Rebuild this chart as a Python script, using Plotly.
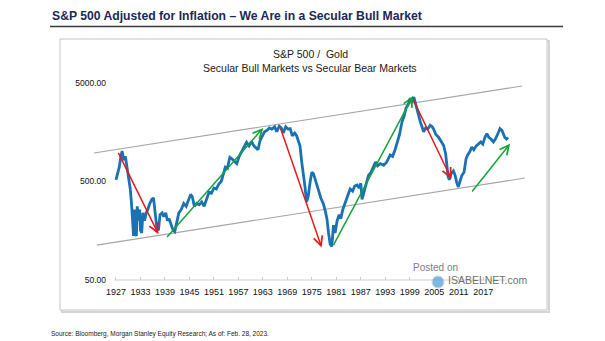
import numpy as np
import plotly.graph_objects as go

# ---------------- data ----------------
years = [1927.0, 1927.4, 1927.8, 1928.2, 1928.5, 1928.9, 1929.3, 1929.7, 1930.1, 1930.5, 1930.8, 1931.1,
         1931.3, 1931.5, 1931.7, 1932.0, 1932.2, 1932.5, 1932.8, 1933.0, 1933.3, 1933.6, 1934.0, 1934.4,
         1934.8, 1935.3, 1935.8, 1936.2, 1936.6, 1937.0, 1937.4, 1937.8, 1938.3, 1938.7, 1939.2, 1939.6,
         1940.0, 1940.5, 1941.0, 1941.4, 1941.8, 1942.4, 1943.0, 1943.6, 1944.2, 1944.8, 1945.3, 1945.7,
         1946.2, 1946.8, 1947.4, 1948.0, 1948.6, 1949.2, 1949.8, 1950.4, 1951.0, 1951.6, 1952.2, 1952.8,
         1953.4, 1953.8, 1954.3, 1954.9, 1955.4, 1956.0, 1956.6, 1957.2, 1957.8, 1958.4, 1959.0, 1959.6,
         1960.2, 1960.8, 1961.4, 1961.8, 1962.3, 1962.8, 1963.4, 1964.0, 1964.6, 1965.2, 1965.9, 1966.4,
         1967.0, 1967.5, 1968.0, 1968.6, 1969.2, 1969.7, 1970.2, 1970.8, 1971.3, 1971.8, 1972.1, 1972.5,
         1972.9, 1973.3, 1973.7, 1974.1, 1974.6, 1975.0, 1975.4, 1975.8, 1976.2, 1976.7, 1977.2, 1977.8,
         1978.3, 1978.7, 1979.1, 1979.5, 1979.9, 1980.3, 1980.7, 1981.2, 1981.7, 1982.1, 1982.6, 1983.2,
         1983.7, 1984.4, 1985.0, 1985.5, 1986.1, 1986.6, 1987.0, 1987.3, 1987.7, 1988.3, 1988.9, 1989.5,
         1990.1, 1990.6, 1991.1, 1991.8, 1992.6, 1993.3, 1994.2, 1994.8, 1995.4, 1995.9, 1996.5, 1997.1,
         1997.6, 1998.1, 1998.6, 1999.1, 1999.5, 2000.0, 2000.3, 2000.7, 2001.2, 2001.6, 2002.0, 2002.4,
         2002.9, 2003.4, 2004.0, 2004.5, 2004.8, 2005.4, 2006.1, 2006.7, 2007.3, 2007.8, 2008.1, 2008.4,
         2008.7, 2009.1, 2009.7, 2010.1, 2010.5, 2010.9, 2011.3, 2011.8, 2012.3, 2012.8, 2013.2, 2013.7,
         2014.2, 2014.7, 2015.3, 2015.9, 2016.4, 2016.9, 2017.4, 2017.9, 2018.4, 2018.9, 2019.5, 2020.0,
         2020.4, 2020.8, 2021.1, 2021.6, 2022.0, 2022.3, 2022.7, 2023.1]
ratio = [520, 600, 700, 900, 1020, 820, 900, 700, 560, 420, 300, 170,
         140, 260, 150, 140, 280, 200, 260, 160, 150, 240, 200, 240,
         260, 300, 330, 340, 250, 170, 160, 230, 240, 220, 240, 200,
         210, 180, 160, 155, 190, 240, 260, 300, 280, 330, 370, 350,
         280, 300, 290, 310, 280, 330, 390, 380, 430, 420, 470, 500,
         620, 700, 680, 880, 850, 800, 760, 900, 1000, 1100, 1250, 1150,
         1280, 1150, 1100, 1050, 1300, 1450, 1600, 1650, 1750, 1700, 1800, 1600,
         1820, 1750, 1550, 1800, 1700, 1720, 1450, 1550, 1450, 1250, 1150, 800,
         620, 450, 310, 350, 500, 620, 600, 520, 460, 400, 340, 300,
         250, 210, 150, 115, 110, 180, 150, 200, 230, 210, 260, 300,
         350, 420, 400, 450, 460, 430, 480, 330, 380, 480, 580, 620,
         700, 790, 720, 760, 730, 780, 930, 900, 1050, 1260, 1500, 2020,
         2300, 2800, 3000, 3500, 3200, 3600, 3200, 2900, 2350, 2000, 1800, 1600,
         1750, 1700, 1860, 1800, 1720, 1500, 1400, 1250, 1160, 950, 730, 560,
         520, 600, 640, 580, 490, 440, 500, 580, 620, 850, 930, 1000,
         1120, 1050, 1150, 1200, 1260, 1200, 1400, 1530, 1400, 1350, 1260, 1350,
         1450, 1600, 1720, 1650, 1500, 1400, 1350, 1400]

# channel lines (start year, start value, end year, end value)
upper_channel_x = [1921.6, 2026.5]
upper_channel_y = [973, 4660]
lower_channel_x = [1922.3, 2027.2]
lower_channel_y = [113, 542]

# trend arrows: tail -> head
bear_tail_x = [1927.4, 1967.2, 1999.5]
bear_tail_y = [1010, 1800, 3630]
bear_head_x = [1937.4, 1977.4, 2009.2]
bear_head_y = [146, 107, 530]
bull_tail_x = [1939.2, 1980.1, 2014.0]
bull_tail_y = [132, 109, 383]
bull_head_x = [1963.1, 1999.8, 2023.6]
bull_head_y = [1750, 3700, 1213]

x_tick_years = list(range(1927, 2018, 6))
y_tick_vals = [50, 500, 5000]
y_tick_text = ["50.00", "500.00", "5000.00"]

title_text = "S&P 500 Adjusted for Inflation \u2013 We Are in a Secular Bull Market"
chart_title = "S&P 500 /  Gold"
chart_subtitle = "Secular Bull Markets vs Secular Bear Markets"
source_text = "Source: Bloomberg, Morgan Stanley Equity Research; As of: Feb. 28, 2023."

# ---------------- layout geometry ----------------
W, H = 605, 341
L, R, T, B = 90, 530, 70, 280
FONT = "Liberation Sans, Arial, sans-serif"

def px(x):
    return (x - L) / (R - L)

def py(y):
    return (B - y) / (B - T)

fig = go.Figure()

fig.add_trace(go.Scatter(x=upper_channel_x, y=upper_channel_y, mode="lines",
                         line=dict(color="#a6a6a6", width=1.1), hoverinfo="skip"))
fig.add_trace(go.Scatter(x=lower_channel_x, y=lower_channel_y, mode="lines",
                         line=dict(color="#a6a6a6", width=1.1), hoverinfo="skip"))
fig.add_trace(go.Scatter(x=years, y=ratio, mode="lines",
                         line=dict(color="#1a72b3", width=2.8), name="S&P 500 / Gold"))

annotations = []
for tx, ty, hx, hy in zip(bear_tail_x, bear_tail_y, bear_head_x, bear_head_y):
    annotations.append(dict(x=hx, y=np.log10(hy), ax=tx, ay=np.log10(ty), xref="x", yref="y",
                            axref="x", ayref="y", text="", showarrow=True, arrowhead=5,
                            arrowsize=1.2, arrowwidth=1.5, arrowcolor="#e8191d", standoff=0))
for tx, ty, hx, hy in zip(bull_tail_x, bull_tail_y, bull_head_x, bull_head_y):
    annotations.append(dict(x=hx, y=np.log10(hy), ax=tx, ay=np.log10(ty), xref="x", yref="y",
                            axref="x", ayref="y", text="", showarrow=True, arrowhead=5,
                            arrowsize=1.2, arrowwidth=1.5, arrowcolor="#16a33b", standoff=0))

annotations += [
    dict(x=px(50), y=py(16), xref="paper", yref="paper", xanchor="left", yanchor="middle",
         text="<b>" + title_text.replace("&", "&amp;") + "</b>", showarrow=False,
         font=dict(family=FONT, size=12.2, color="#1b2858")),
    dict(x=px(310), y=py(54), xref="paper", yref="paper", xanchor="center", yanchor="middle",
         text=chart_title.replace("&", "&amp;"), showarrow=False,
         font=dict(family=FONT, size=10.5, color="#1a1a1a")),
    dict(x=px(310), y=py(68), xref="paper", yref="paper", xanchor="center", yanchor="middle",
         text=chart_subtitle, showarrow=False,
         font=dict(family=FONT, size=10.5, color="#1a1a1a")),
    dict(x=px(49), y=py(334), xref="paper", yref="paper", xanchor="left", yanchor="middle",
         text=source_text, showarrow=False,
         font=dict(family=FONT, size=6.5, color="#222222")),
    dict(x=px(411), y=py(267), xref="paper", yref="paper", xanchor="left", yanchor="middle",
         text="Posted on", showarrow=False,
         font=dict(family=FONT, size=10, color="#808080")),
    dict(x=px(446), y=py(280), xref="paper", yref="paper", xanchor="left", yanchor="middle",
         text="ISABELNET.com", showarrow=False,
         font=dict(family=FONT, size=10.5, color="#707070")),
]

shapes = [
    # frame shadow
    dict(type="rect", xref="paper", yref="paper", x0=px(62), x1=px(549), y0=py(41), y1=py(312),
         line=dict(color="#d4d4d4", width=2), fillcolor="rgba(0,0,0,0)", layer="below"),
    # frame
    dict(type="rect", xref="paper", yref="paper", x0=px(60), x1=px(547), y0=py(39), y1=py(310),
         line=dict(color="#c4c4c4", width=1), fillcolor="white", layer="below"),
    # title underline
    dict(type="line", xref="paper", yref="paper", x0=px(50), x1=px(563), y0=py(26.5), y1=py(26.5),
         line=dict(color="#3a3a3a", width=1.5)),
    # x axis line
    dict(type="line", xref="x", yref="paper", x0=1926.6, x1=2022.8, y0=0, y1=0,
         line=dict(color="#d0d0d0", width=1)),
    # watermark globe
    dict(type="circle", xref="paper", yref="paper", x0=px(432), x1=px(444), y0=py(276), y1=py(288),
         line=dict(color="#b8cfe0", width=1), fillcolor="#5fa8dc", opacity=0.8),
]

fig.update_layout(
    width=W, height=H,
    margin=dict(l=L, r=W - R, t=T, b=H - B, pad=0),
    paper_bgcolor="white", plot_bgcolor="rgba(0,0,0,0)",
    showlegend=False,
    font=dict(family=FONT, color="#111111"),
    annotations=annotations,
    shapes=shapes,
    xaxis=dict(range=[1920.63, 2028.47], tickmode="array", tickvals=x_tick_years,
               ticktext=[str(v) for v in x_tick_years], ticks="inside", ticklen=3,
               tickcolor="#cccccc", showline=False, showgrid=False, zeroline=False,
               tickfont=dict(family=FONT, size=9, color="#111111"), ticklabelstandoff=5),
    yaxis=dict(type="log", range=[np.log10(50), 3.831], tickmode="array", tickvals=y_tick_vals,
               ticktext=y_tick_text, ticks="", showline=False, showgrid=False, zeroline=False,
               tickfont=dict(family=FONT, size=8.5, color="#111111"), ticklabelstandoff=-17),
)

fig.write_html("out.html")
